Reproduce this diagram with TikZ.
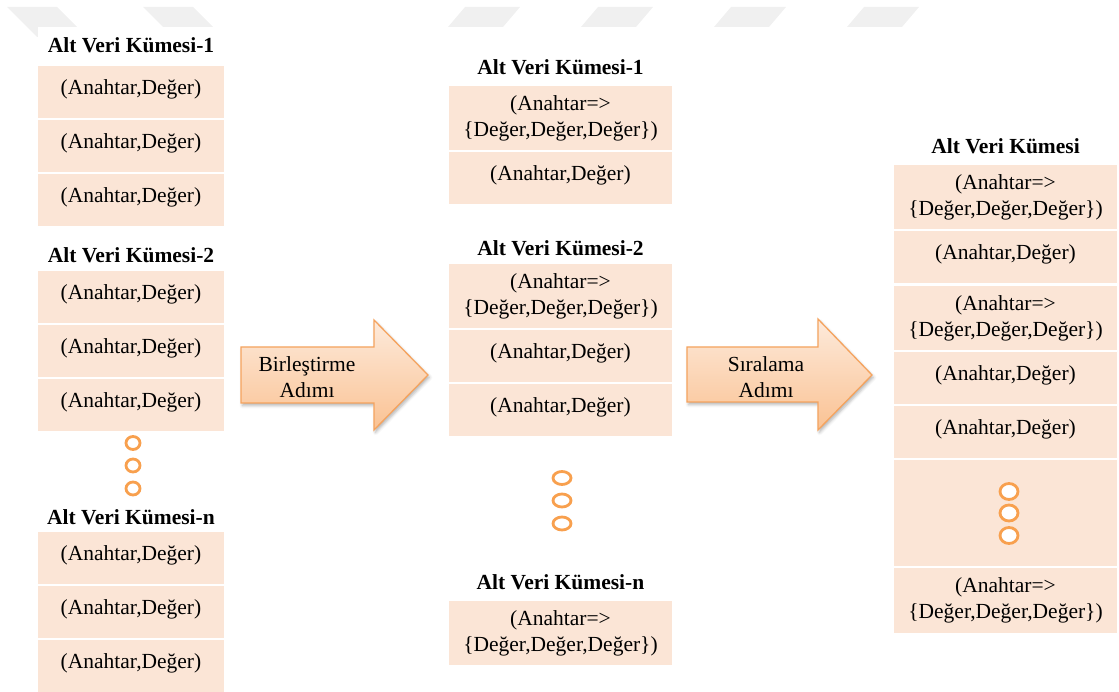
\documentclass[tikz,border=0pt]{standalone}
\usepackage{fontspec}
\setmainfont{Liberation Serif}
\usetikzlibrary{shapes.geometric,shadows.blur}

\definecolor{cellfill}{HTML}{FBE5D6}
\definecolor{dotorange}{HTML}{F8A04E}
\definecolor{arrowedge}{HTML}{F5A35E}
\definecolor{arrowtop}{HTML}{FDEADB}
\definecolor{arrowbottom}{HTML}{FAC293}
\definecolor{markgray}{HTML}{F0F0F0}

\tikzset{
  every node/.style={font=\fontsize{21.5}{26}\selectfont, inner sep=0pt},
  settitle/.style={font=\fontsize{21.5}{26}\selectfont\bfseries, fill=white},
  cell/.style={fill=cellfill, minimum height=#1},
  narrowcell/.style={cell=#1, minimum width=186pt},
  widecell/.style={cell=#1, minimum width=223pt},
  oneline/.style={text height=16pt, text depth=11.8pt},
  twoline/.style={align=center},
  dot/.style={ellipse, draw=dotorange, line width=2.8pt, fill=white},
  stepbody/.style={draw=arrowedge, line width=1.3pt, top color=arrowtop,
    bottom color=arrowbottom,
    blur shadow={shadow xshift=1.5pt, shadow yshift=-2.5pt,
      shadow blur radius=3pt, shadow opacity=30}},
  headermark/.style={fill=markgray},
}

\newcommand{\kv}{(Anahtar,Değer)}
\newcommand{\kvv}{(Anahtar=>\\\{Değer,Değer,Değer\})}

\begin{document}
\begin{tikzpicture}[x=1pt,y=-1pt]
\useasboundingbox (0,0) rectangle (1119,692);

% faint header marks
\foreach \sx in {0,136} {
  \path[headermark] (7+\sx,7) -- (57+\sx,7) -- (87+\sx,37) -- (37+\sx,37) -- cycle;
}
\foreach \sx in {0,133,266,399} {
  \path[headermark] (448+\sx,27) -- (503+\sx,27) -- (520+\sx,7) -- (465+\sx,7) -- cycle;
}

% ---------- left column: split subsets ----------
\node[settitle, minimum width=186pt, minimum height=36pt] (la) at (131,45) {Alt Veri Kümesi-1};
\node[narrowcell=52pt, oneline] (la1) at (131,92)  {\kv};
\node[narrowcell=52pt, oneline] (la2) at (131,146) {\kv};
\node[narrowcell=52pt, oneline] (la3) at (131,200) {\kv};

\node[settitle] (lb) at (131,255) {Alt Veri Kümesi-2};
\node[narrowcell=52pt, oneline] (lb1) at (131,297) {\kv};
\node[narrowcell=52pt, oneline] (lb2) at (131,351) {\kv};
\node[narrowcell=52pt, oneline] (lb3) at (131,405) {\kv};

\node[dot, minimum width=14pt, minimum height=13pt] (ld1) at (133,443) {};
\node[dot, minimum width=14pt, minimum height=13pt] (ld2) at (133,465.5) {};
\node[dot, minimum width=14pt, minimum height=13pt] (ld3) at (133,488.5) {};

\node[settitle] (ln) at (131,517) {Alt Veri Kümesi-n};
\node[narrowcell=52pt, oneline] (ln1) at (131,558) {\kv};
\node[narrowcell=52pt, oneline] (ln2) at (131,612) {\kv};
\node[narrowcell=52pt, oneline] (ln3) at (131,666) {\kv};

% ---------- merge step ----------
\path[stepbody] (241,347) -- (374,347) -- (374,320) -- (428,375)
  -- (374,430) -- (374,403) -- (241,403) -- cycle;
\node[align=center] (merge) at (307,377) {Birleştirme\\Adımı};

% ---------- middle column: merged subsets ----------
\node[settitle] (ma) at (560.5,67) {Alt Veri Kümesi-1};
\node[widecell=64pt, twoline] (ma1) at (560.5,118) {\kvv};
\node[widecell=52pt, oneline] (ma2) at (560.5,178) {\kv};

\node[settitle] (mb) at (560.5,248) {Alt Veri Kümesi-2};
\node[widecell=64pt, twoline] (mb1) at (560.5,296) {\kvv};
\node[widecell=52pt, oneline] (mb2) at (560.5,356) {\kv};
\node[widecell=52pt, oneline] (mb3) at (560.5,410) {\kv};

\node[dot, minimum width=18pt, minimum height=13pt] (md1) at (562,478) {};
\node[dot, minimum width=18pt, minimum height=13pt] (md2) at (562,500.5) {};
\node[dot, minimum width=18pt, minimum height=13pt] (md3) at (562,523.5) {};

\node[settitle] (mn) at (560.5,582) {Alt Veri Kümesi-n};
\node[widecell=64pt, twoline] (mn1) at (560.5,633) {\kvv};

% ---------- sort step ----------
\path[stepbody] (687,347) -- (818,347) -- (818,319) -- (872,375)
  -- (818,430) -- (818,402) -- (687,402) -- cycle;
\node[align=center] (sort) at (766,377) {Sıralama\\Adımı};

% ---------- right column: sorted subset ----------
\node[settitle] (ra) at (1005.5,146) {Alt Veri Kümesi};
\node[widecell=64pt, twoline] (r1) at (1005.5,197) {\kvv};
\node[widecell=52pt, oneline] (r2) at (1005.5,257) {\kv};
\node[widecell=64pt, twoline] (r3) at (1005.5,318) {\kvv};
\node[widecell=52pt, oneline] (r4) at (1005.5,378) {\kv};
\node[widecell=52pt, oneline] (r5) at (1005.5,432) {\kv};
\node[widecell=106pt] (r6) at (1005.5,513) {};
\node[dot, minimum width=18pt, minimum height=16pt] (rd1) at (1009,491.5) {};
\node[dot, minimum width=18pt, minimum height=16pt] (rd2) at (1009,513) {};
\node[dot, minimum width=18pt, minimum height=16pt] (rd3) at (1009,535.5) {};
\node[widecell=65pt, twoline] (r7) at (1005.5,600.5) {\kvv};

\end{tikzpicture}
\end{document}
